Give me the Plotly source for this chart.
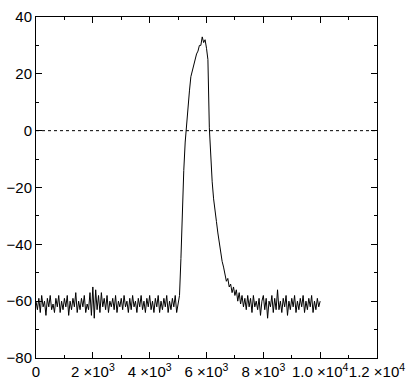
import plotly.graph_objects as go

# Signal values sampled every 50 units from 0 to 10000
signal = [
    -60, -63, -59, -64, -58, -62, -60, -65, -59, -62,
    -58, -63, -61, -64, -59, -62, -58, -64, -60, -63,
    -59, -62, -58, -65, -60, -63, -59, -62, -57, -64,
    -60, -63, -59, -62, -58, -64, -61, -63, -57, -65,
    -55, -66, -56, -63, -58, -64, -57, -62, -59, -63,
    -58, -64, -60, -62, -59, -63, -58, -64, -60, -62,
    -59, -63, -58, -62, -60, -64, -59, -63, -58, -62,
    -60, -64, -59, -62, -58, -63, -60, -64, -59, -62,
    -58, -63, -60, -64, -59, -62, -58, -64, -60, -63,
    -59, -62, -58, -64, -60, -63, -59, -62, -58, -64,
    -61,
    -58, -45, -27, -14, -4, 3, 10, 14, 19, 21,
    24, 25, 27, 28, 30, 30, 33, 31, 32, 29,
    25, 1, -10, -18, -24, -29, -32, -36, -40, -42,
    -46, -48, -50, -53, -52, -55, -54, -57, -55, -58,
    -56, -60, -57, -61, -58, -62, -59, -63, -58,
    -62, -59, -64, -58, -62, -60, -63, -59, -65, -60,
    -58, -63, -59, -66, -60, -62, -58, -64, -59, -63,
    -56, -63, -60, -64, -59, -62, -58, -65, -60, -63,
    -59, -62, -58, -64, -60, -63, -59, -62, -58, -64,
    -60, -63, -59, -62, -58, -64, -60, -63, -59, -62,
    -60,
]
step = 50
xs = [i * step for i in range(len(signal))]

x_tickvals = [0, 2000, 4000, 6000, 8000, 10000, 12000]
x_ticktext = ["0", "2 ×10<sup>3</sup>", "4 ×10<sup>3</sup>", "6 ×10<sup>3</sup>",
              "8 ×10<sup>3</sup>", "1.0 ×10<sup>4</sup>", "1.2 ×10<sup>4</sup>"]
y_tickvals = [-80, -60, -40, -20, 0, 20, 40]

fig = go.Figure()
fig.add_trace(go.Scatter(x=xs, y=signal, mode="lines",
                         line=dict(color="black", width=1), showlegend=False))

fig.add_shape(type="line", xref="paper", yref="y", x0=0, x1=1, y0=0, y1=0,
              line=dict(color="black", width=1, dash="dot"))

font = dict(family="Liberation Sans, Arial, sans-serif", size=15, color="black")

fig.update_layout(
    width=412, height=387,
    margin=dict(l=36, r=35, t=17, b=29),
    paper_bgcolor="white", plot_bgcolor="white",
    font=font,
    xaxis=dict(range=[0, 12000], tickvals=x_tickvals, ticktext=x_ticktext,
               automargin=False, tickangle=0,
               ticks="inside", ticklen=6, tickwidth=1, tickcolor="black",
               showline=True, linecolor="black", linewidth=1, mirror="allticks",
               showgrid=False, zeroline=False,
               minor=dict(dtick=1000, ticks="inside", ticklen=3, tickcolor="black", showgrid=False)),
    yaxis=dict(range=[-80, 40], tickvals=y_tickvals,
               automargin=False,
               ticks="inside", ticklen=6, tickwidth=1, tickcolor="black",
               showline=True, linecolor="black", linewidth=1, mirror="allticks",
               showgrid=False, zeroline=False,
               minor=dict(dtick=10, ticks="inside", ticklen=3, tickcolor="black", showgrid=False)),
)

fig.write_html("out.html", config={"displayModeBar": False},
               post_script="document.body.style.margin='0px';document.body.style.overflow='hidden';")
